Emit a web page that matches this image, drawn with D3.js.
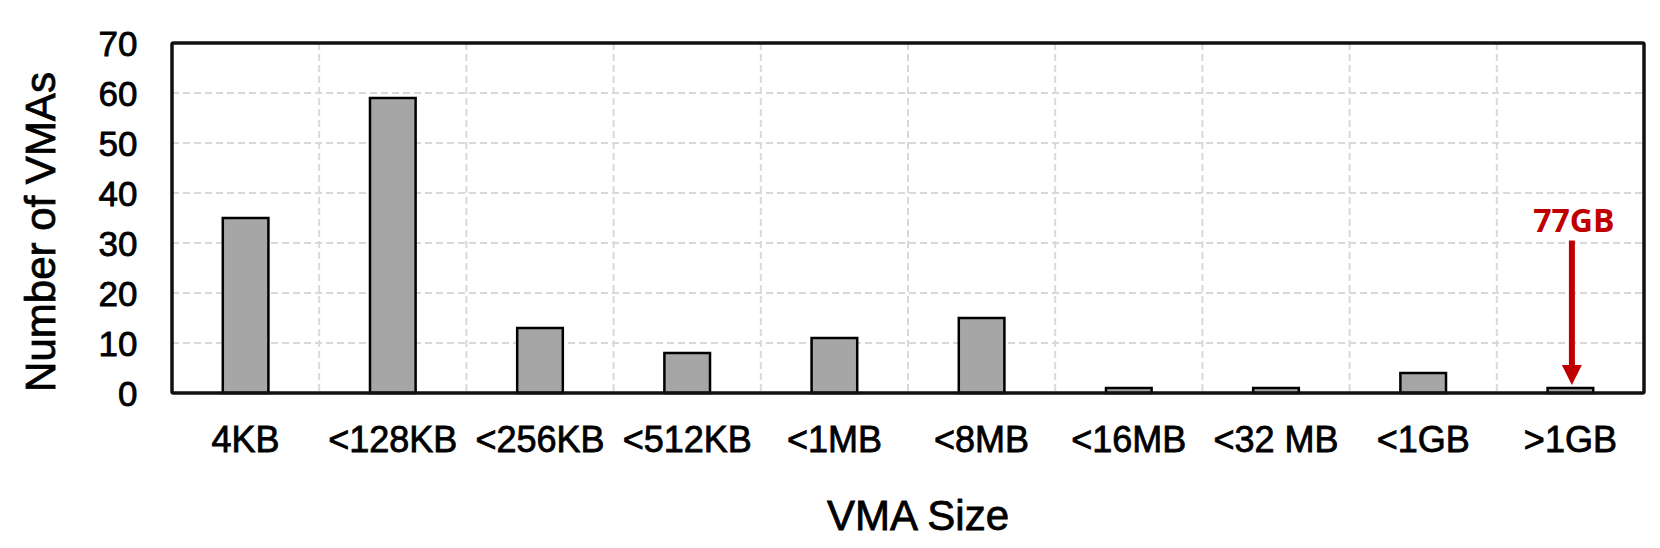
<!DOCTYPE html>
<html>
<head>
<meta charset="utf-8">
<script src="https://cdn.jsdelivr.net/npm/d3@7"></script>
<style>
  body { margin: 0; background: #fff; }
  text { font-family: "Liberation Sans", Arial, Helvetica, sans-serif; fill: #000; }
  .heavy { stroke: #000; stroke-width: 0.8px; }
</style>
</head>
<body>
<div id="chart"></div>
<script>
// data
var categories = ["4KB", "<128KB", "<256KB", "<512KB", "<1MB", "<8MB", "<16MB", "<32 MB", "<1GB", ">1GB"]
var counts = [35, 59, 13, 8, 11, 15, 1, 1, 4, 1]
var yTicks = [0, 10, 20, 30, 40, 50, 60, 70]
var note = { category: ">1GB", label: "77GB", from: 30.5, to: 1.6, textAt: 32.2 }

var W = 1660, H = 548
var margin = { top: 43, right: 16, bottom: 155, left: 172 }

var svg = d3.select('#chart')
  .append('svg')
  .attr("width", W)
  .attr("height", H)

var x = d3.scaleBand()
  .domain(categories)
  .range([margin.left, W - margin.right])
  .paddingInner(0.69)
  .paddingOuter(0.345)

var y = d3.scaleLinear()
  .domain([0, 70])
  .range([H - margin.bottom, margin.top])

var step = x.step()

// grid lines
var grid = svg.append("g")
  .attr("stroke", "#d9d9d9")
  .attr("stroke-width", 2)
  .attr("stroke-dasharray", "7,4")

grid.selectAll(".hgrid")
  .data(yTicks.filter(function (d) { return d > 0 && d < 70 }))
  .enter()
  .append("line")
  .attr("x1", margin.left)
  .attr("x2", W - margin.right)
  .attr("y1", function (d) { return y(d) })
  .attr("y2", function (d) { return y(d) })

grid.selectAll(".vgrid")
  .data(categories.slice(0, -1))
  .enter()
  .append("line")
  .attr("x1", function (d) { return x(d) + x.bandwidth() / 2 + step / 2 })
  .attr("x2", function (d) { return x(d) + x.bandwidth() / 2 + step / 2 })
  .attr("y1", margin.top)
  .attr("y2", H - margin.bottom)

// bars
svg.selectAll(".bar")
  .data(counts)
  .enter()
  .append("rect")
  .attr("x", function (d, i) { return x(categories[i]) })
  .attr("y", function (d) { return y(d) })
  .attr("width", x.bandwidth())
  .attr("height", function (d) { return y(0) - y(d) })
  .attr("fill", "#a6a6a6")
  .attr("stroke", "#000")
  .attr("stroke-width", 2.5)

// frame
svg.append("rect")
  .attr("x", margin.left)
  .attr("y", margin.top)
  .attr("width", W - margin.left - margin.right)
  .attr("height", H - margin.top - margin.bottom)
  .attr("fill", "none")
  .attr("stroke", "#111")
  .attr("stroke-width", 3.5)
  .attr("rx", 1.5)

// y tick labels
svg.selectAll(".ylab")
  .data(yTicks)
  .enter()
  .append("text")
  .attr("class", "heavy")
  .attr("x", margin.left - 34.5)
  .attr("y", function (d) { return y(d) })
  .attr("dy", "0.36em")
  .attr("text-anchor", "end")
  .style("font-size", "35px")
  .text(function (d) { return d })

// x tick labels
svg.selectAll(".xlab")
  .data(categories)
  .enter()
  .append("text")
  .attr("class", "heavy")
  .attr("x", function (d) { return x(d) + x.bandwidth() / 2 })
  .attr("y", 452)
  .attr("text-anchor", "middle")
  .style("font-size", "36px")
  .text(function (d) { return d })

// axis titles
svg.append("text")
  .attr("class", "heavy")
  .attr("x", 918)
  .attr("y", 530)
  .attr("text-anchor", "middle")
  .style("font-size", "42px")
  .text("VMA Size")

svg.append("text")
  .attr("class", "heavy")
  .attr("transform", "translate(55," + 232 + ") rotate(-90)")
  .attr("text-anchor", "middle")
  .style("font-size", "42px")
  .text("Number of VMAs")

// annotation arrow
var ax = x(note.category) + x.bandwidth() / 2 + 1.5
svg.append("line")
  .attr("x1", ax)
  .attr("x2", ax)
  .attr("y1", y(note.from))
  .attr("y2", y(note.to) - 18)
  .attr("stroke", "#c00000")
  .attr("stroke-width", 6)

svg.append("path")
  .attr("d", "M" + (ax - 10) + "," + (y(note.to) - 20) + "L" + (ax + 10) + "," + (y(note.to) - 20) + "L" + ax + "," + y(note.to) + "Z")
  .attr("fill", "#c00000")

svg.append("text")
  .attr("x", ax + 2)
  .attr("y", y(note.textAt))
  .attr("text-anchor", "middle")
  .style("font-family", "'Open Sans', sans-serif")
  .style("font-weight", "bold")
  .style("font-size", "32px")
  .style("fill", "#c00000")
  .text(note.label)
</script>
</body>
</html>
